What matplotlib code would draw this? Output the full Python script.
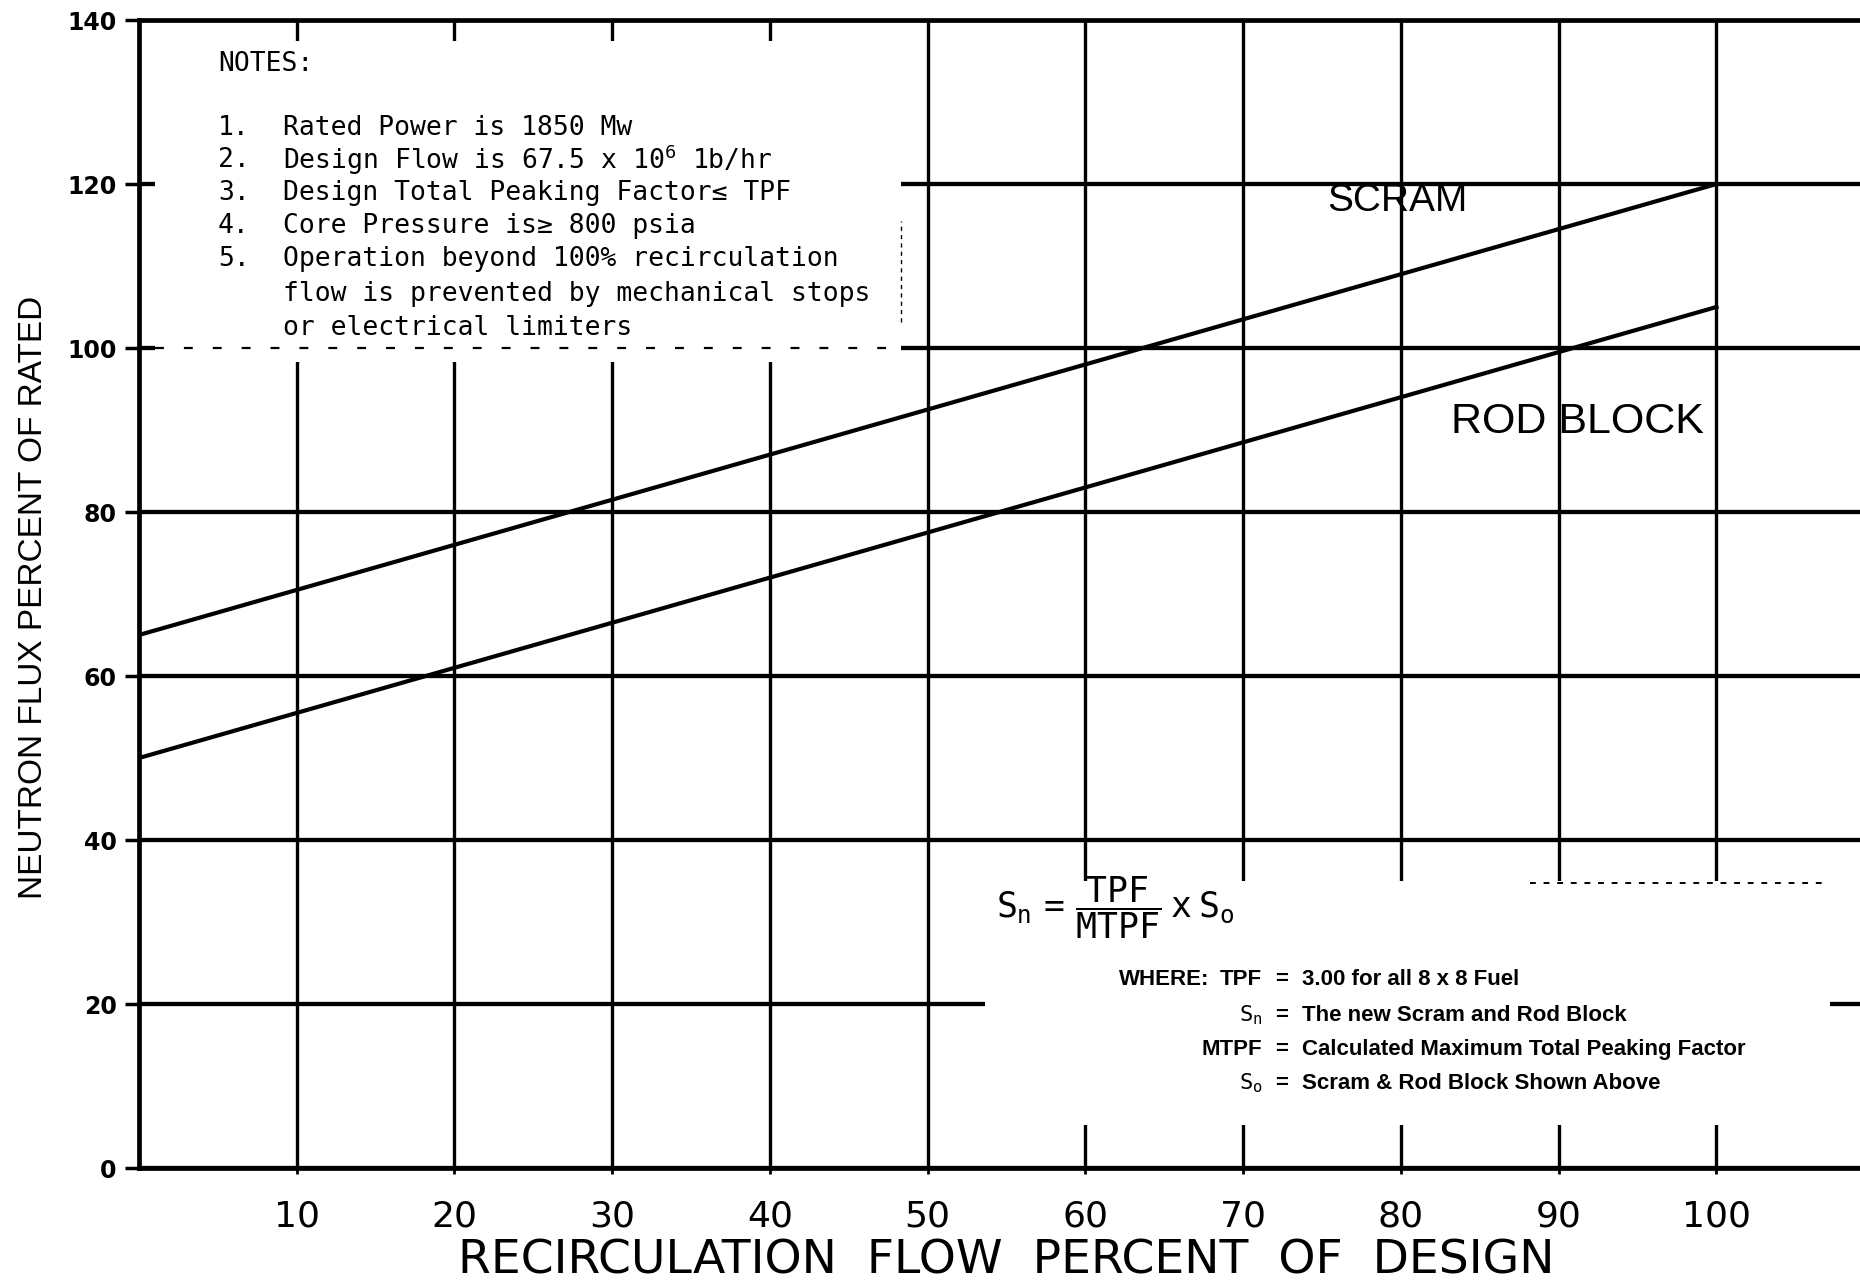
import matplotlib
matplotlib.use("Agg")
import matplotlib.pyplot as plt
from matplotlib.patches import Rectangle

# ---- data ----
flow = [0, 100]
scram = [65, 120]
rod_block = [50, 105]
x_ticks = [10, 20, 30, 40, 50, 60, 70, 80, 90, 100]
y_ticks = [0, 20, 40, 60, 80, 100, 120, 140]
notes = ["1.", "2.", "3.", "4.", "5.", "", ""]
notes_text = [
    "Rated Power is 1850 Mw",
    "Design Flow is 67.5 x 10$^{6}$ 1b/hr",
    "Design Total Peaking Factor\u2264 TPF",
    "Core Pressure is\u2265 800 psia",
    "Operation beyond 100% recirculation",
    "flow is prevented by mechanical stops",
    "or electrical limiters",
]
where_keys = ["TPF", "$S_n$", "MTPF", "$S_o$"]
where_vals = [
    "3.00 for all 8 x 8 Fuel",
    "The new Scram and Rod Block",
    "Calculated Maximum Total Peaking Factor",
    "Scram & Rod Block Shown Above",
]

plt.rcParams["mathtext.fontset"] = "custom"
plt.rcParams["mathtext.rm"] = "DejaVu Sans Mono"
plt.rcParams["mathtext.it"] = "DejaVu Sans Mono"
plt.rcParams["mathtext.bf"] = "DejaVu Sans Mono:bold"

W, H = 1860, 1287
fig = plt.figure(figsize=(W / 100, H / 100), dpi=100)
ax = fig.add_axes([139 / W, (H - 1168) / H, 1 - 139 / W, (1168 - 20) / H])
ax.set_xlim(0, 109.1)
ax.set_ylim(0, 140)

ax.set_xticks(x_ticks)
ax.set_xticklabels([str(v) for v in x_ticks], fontsize=26, family="DejaVu Sans")
ax.set_yticks(y_ticks)
ax.set_yticklabels([str(v) for v in y_ticks], fontsize=17, fontweight="bold",
                   family="DejaVu Sans")
ax.tick_params(axis="x", direction="inout", length=8, width=2, pad=19)
ax.tick_params(axis="y", direction="out", length=10, width=2.5, pad=6)
ax.grid(True, axis="y", color="black", linewidth=3.1, zorder=1)
ax.grid(True, axis="x", color="black", linewidth=2.4, zorder=1)
ax.set_axisbelow(True)
for s in ["left", "bottom", "top"]:
    ax.spines[s].set_linewidth(3.4)
    ax.spines[s].set_color("black")
ax.spines["right"].set_visible(False)

# white note boxes covering the grid
ax.add_patch(Rectangle((1.0, 98.3), 47.3, 39.2, facecolor="white",
                       edgecolor="none", zorder=1.5))
ax.add_patch(Rectangle((53.6, 5.2), 53.6, 29.8, facecolor="white",
                       edgecolor="none", zorder=1.5))
# scanned remnants
ax.plot([1.0, 48.3], [100, 100], color="black", linewidth=1.6,
        linestyle=(0, (4, 9)), zorder=1.6)
ax.plot([48.3, 48.3], [103.2, 115.5], color="black", linewidth=1.0,
        linestyle=(0, (3, 3)), zorder=1.6)
ax.plot([88.2, 107.0], [34.7, 34.7], color="black", linewidth=1.4,
        linestyle=(0, (3, 4)), zorder=1.6)

# curves
ax.plot(flow, scram, color="black", linewidth=3.0, zorder=3)
ax.plot(flow, rod_block, color="black", linewidth=3.0, zorder=3)

ax.text(79.8, 117.9, "SCRAM", fontsize=28, family="Liberation Sans",
        ha="center", va="center", zorder=4)
ax.text(91.2, 91.0, "ROD BLOCK", fontsize=31, family="Liberation Sans",
        ha="center", va="center", zorder=4)

# notes
mono = "DejaVu Sans Mono"
ax.text(5.0, 134.6, "NOTES:", fontsize=19, family=mono, ha="left", va="center",
        zorder=4)
ys = [126.8, 122.9, 118.9, 114.9, 110.8, 106.6, 102.5]
for num, txt, y in zip(notes, notes_text, ys):
    if num:
        ax.text(5.0, y, num, fontsize=19, family=mono, ha="left", va="center",
                zorder=4)
    ax.text(9.1, y, txt, fontsize=19, family=mono, ha="left", va="center",
            zorder=4)

# formula
ax.text(54.3, 31.8, r"$S_n\ =\ \dfrac{TPF}{MTPF}\ x\ S_o$", fontsize=25,
        ha="left", va="center", zorder=4)
wfont = dict(fontsize=16, family="Liberation Sans", fontweight="bold",
             va="center", zorder=4)
ax.text(62.1, 23.0, "WHERE:", ha="left", **wfont)
wy = [23.0, 18.6, 14.4, 10.3]
for k, v, y in zip(where_keys, where_vals, wy):
    ax.text(71.2, y, k, ha="right", **wfont)
    ax.text(72.0, y, "=", ha="left", **wfont)
    ax.text(73.7, y, v, ha="left", **wfont)

fig.text(1006 / W, 1 - 1273 / H, "RECIRCULATION  FLOW  PERCENT  OF  DESIGN",
         fontsize=34, family="DejaVu Sans", ha="center", va="baseline")
fig.text(34 / W, 1 - 597 / H, "NEUTRON FLUX PERCENT OF RATED",
         fontsize=24, family="Liberation Sans", rotation=90,
         ha="center", va="center")

fig.savefig("out.png", dpi=100)
